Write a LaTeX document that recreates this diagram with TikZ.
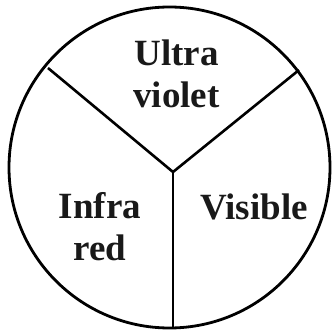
\documentclass[tikz,border=0pt]{standalone}
\usepackage{fontspec}
\setmainfont{Liberation Serif}
\begin{document}
\begin{tikzpicture}[x=1pt,y=-1pt,
  rim/.style={draw=black,line width=2.8pt,circle,minimum size=321pt,inner sep=0pt,outer sep=0pt},
  divider/.style={draw=black,line width=2.6pt},
  label/.style={font=\fontsize{37}{42}\selectfont\bfseries,align=center,inner sep=0pt,text=black!90}]
\useasboundingbox (0,0) rectangle (332,331);
\node[rim] (c) at (169.5,167.5) {};
\coordinate (j) at (173,172);
\coordinate (l) at (48,68);
\coordinate (r) at (299,70);
\coordinate (b) at (173,329);
\draw[divider] (l) -- (j) -- (r);
\draw[divider] (j) -- (b);
\node[label] (uv) at (176.5,74) {Ultra\\violet};
\node[label] (ir) at (100,227) {Infra\\red};
\node[label,anchor=base] (vis) at (254,220) {Visible};
\end{tikzpicture}
\end{document}
